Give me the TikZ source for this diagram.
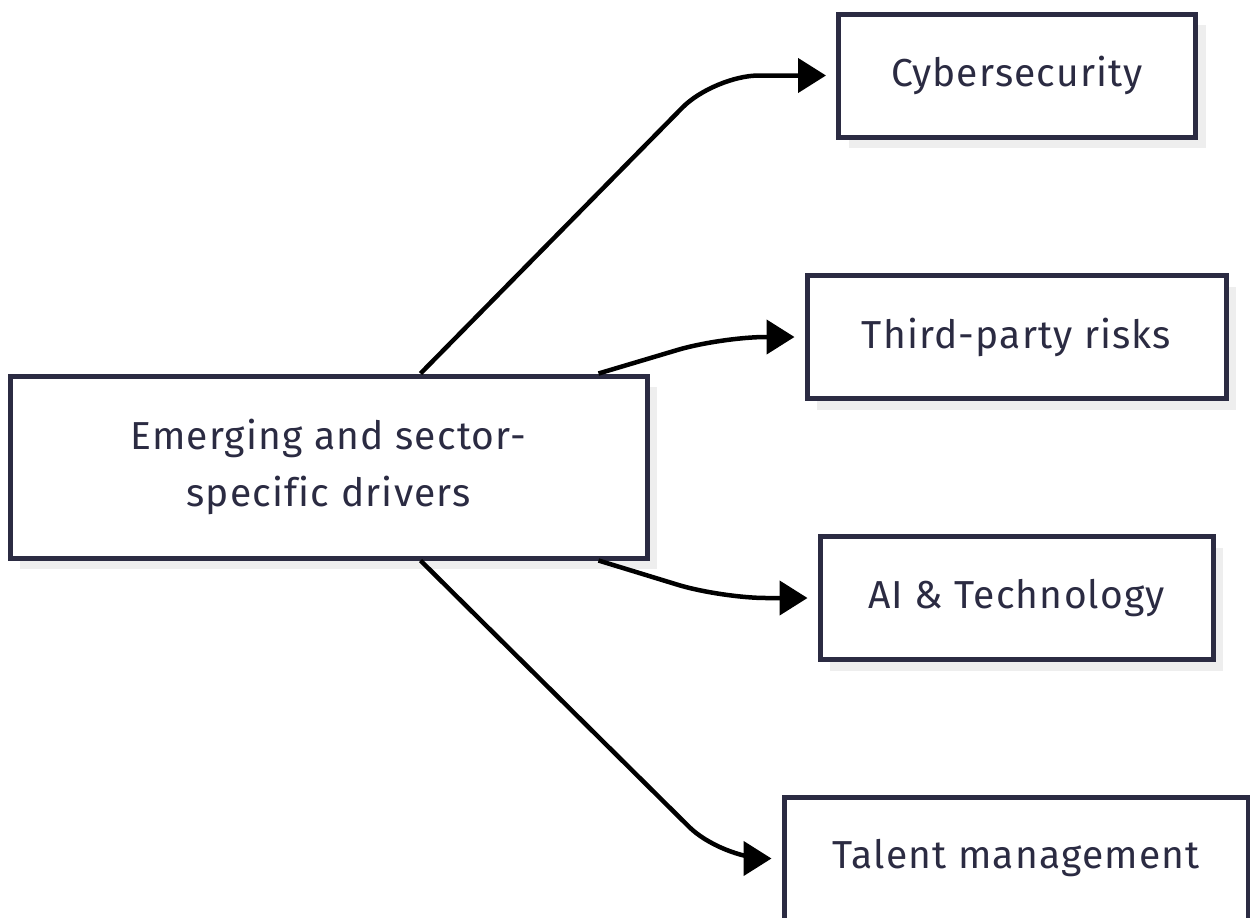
\documentclass[tikz,border=0pt]{standalone}
\usepackage{fontspec}
\setmainfont{Fira Sans}[LetterSpace=3, Ligatures=NoCommon]
\usetikzlibrary{arrows.meta,shadows}

\definecolor{boxline}{HTML}{2B2B42}
\definecolor{boxtext}{HTML}{2B2B42}
\definecolor{shadowgray}{HTML}{EEEEEE}

\begin{document}
\begin{tikzpicture}[x=1pt, y=-1pt,
    box/.style={draw=boxline, line width=5pt, fill=white, text=boxtext,
      minimum height=123pt, align=center, font=\fontsize{39}{57}\selectfont,
      drop shadow={shadow xshift=10pt, shadow yshift=-11pt, fill=shadowgray, opacity=1}},
    link/.style={line width=4.5pt, rounded corners=45pt, shorten >=10pt,
      -{Triangle[length=28pt, width=34pt]}}]
    \useasboundingbox (0,0) rectangle (1250,918);

    % ノード
    \node[box, minimum width=637pt, minimum height=182pt] (drivers) at (328.5, 467) {Emerging and sector-\\specific drivers};
    \node[box, minimum width=357pt] (cyber)  at (1017, 75.5) {Cybersecurity};
    \node[box, minimum width=419pt] (third)  at (1016.5, 337) {Third-party risks};
    \node[box, minimum width=393pt] (ai)     at (1016.5, 598) {AI \& Technology};
    \node[box, minimum width=464pt] (talent) at (1016, 858.5) {Talent management};

    % 曲がり角の x 位置
    \coordinate (bendA) at (714, 0);
    \coordinate (bendB) at (721, 0);

    % エッジ
    \draw[link] ([xshift=92pt]drivers.north) -- (cyber.west -| bendA) -- (cyber.west);
    \draw[link] ([xshift=270pt]drivers.north) -- (third.west -| bendB) -- (third.west);
    \draw[link] ([xshift=270pt]drivers.south) -- (ai.west -| bendB) -- (ai.west);
    \draw[link] ([xshift=92pt]drivers.south) -- (talent.west -| bendB) -- (talent.west);
\end{tikzpicture}
\end{document}
